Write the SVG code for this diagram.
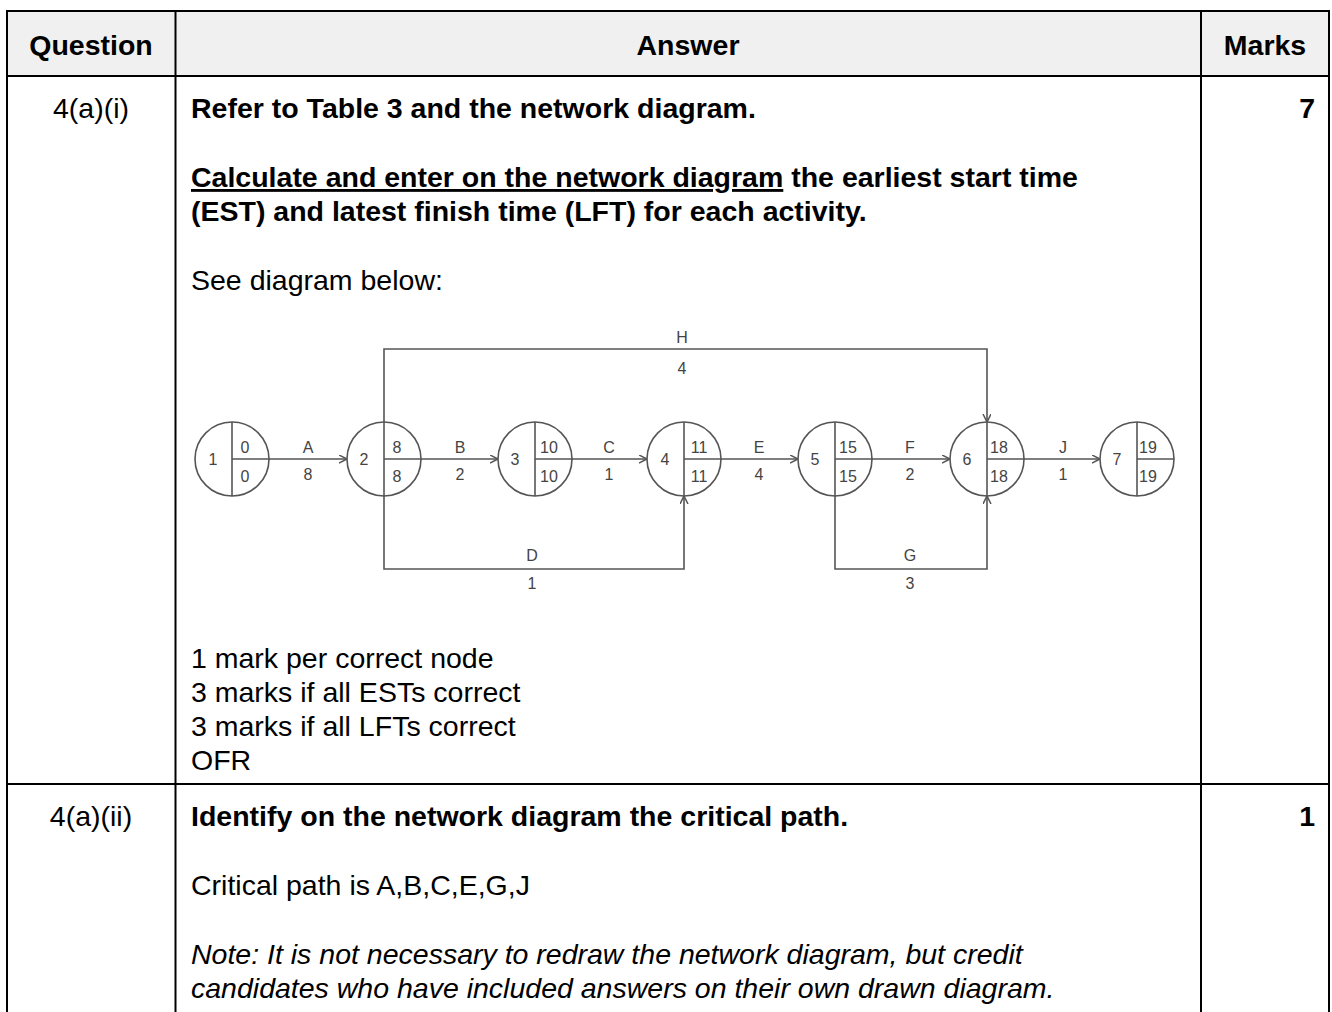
<svg xmlns="http://www.w3.org/2000/svg" width="1332" height="1012" viewBox="0 0 1332 1012">
<style>
text{font-family:"Liberation Sans",Arial,sans-serif;fill:#000}
.t{font-size:28.5px}
.b{font-weight:bold}
.i{font-style:italic}
.c{text-anchor:middle}
.e{text-anchor:end}
.grid{stroke:#000;stroke-width:2;fill:none}
.node circle{fill:#fff;stroke:#555;stroke-width:1.6}
.node line{stroke:#555;stroke-width:1.6}
.node text,.lbl{font-size:16px;fill:#444;text-anchor:middle}
.edge{stroke:#555;stroke-width:1.6;fill:none}
</style>
<defs>
<marker id="ah" markerWidth="10" markerHeight="10" refX="8" refY="4" orient="auto" markerUnits="userSpaceOnUse">
<path d="M0,0 L8,4 L0,8" fill="none" stroke="#555" stroke-width="1.5"/>
</marker>
</defs>
<rect x="8" y="12" width="1320" height="64" fill="#f0f0f0"/>
<g id="table" class="grid">
<line x1="6" y1="11" x2="1330" y2="11"/>
<line x1="6" y1="76" x2="1330" y2="76"/>
<line x1="6" y1="784" x2="1330" y2="784"/>
<line x1="7" y1="10" x2="7" y2="1012"/>
<line x1="175.5" y1="10" x2="175.5" y2="1012"/>
<line x1="1201" y1="10" x2="1201" y2="1012"/>
<line x1="1329" y1="10" x2="1329" y2="1012"/>
</g>
<g id="header">
<text class="t b c" x="91" y="55">Question</text>
<text class="t b c" x="688" y="55">Answer</text>
<text class="t b c" x="1265" y="55">Marks</text>
</g>
<g id="row1">
<text class="t c" x="91" y="118">4(a)(i)</text>
<text class="t b" x="191" y="118">Refer to Table 3 and the network diagram.</text>
<text class="t b e" x="1315" y="118">7</text>
<text class="t b" x="191" y="187"><tspan text-decoration="underline">Calculate and enter on the network diagram</tspan> the earliest start time</text>
<text class="t b" x="191" y="221">(EST) and latest finish time (LFT) for each activity.</text>
<text class="t" x="191" y="290">See diagram below:</text>
<text class="t" x="191" y="668">1 mark per correct node</text>
<text class="t" x="191" y="702">3 marks if all ESTs correct</text>
<text class="t" x="191" y="736">3 marks if all LFTs correct</text>
<text class="t" x="191" y="770">OFR</text>
</g>
<g id="row2">
<text class="t c" x="91" y="826">4(a)(ii)</text>
<text class="t b" x="191" y="826">Identify on the network diagram the critical path.</text>
<text class="t b e" x="1315" y="826">1</text>
<text class="t" x="191" y="895">Critical path is A,B,C,E,G,J</text>
<text class="t i" x="191" y="964">Note: It is not necessary to redraw the network diagram, but credit</text>
<text class="t i" x="191" y="998">candidates who have included answers on their own drawn diagram.</text>
</g>
<g id="connectors">
<line class="edge" x1="269" y1="459" x2="347" y2="459" marker-end="url(#ah)"/>
<line class="edge" x1="421" y1="459" x2="498" y2="459" marker-end="url(#ah)"/>
<line class="edge" x1="572" y1="459" x2="647" y2="459" marker-end="url(#ah)"/>
<line class="edge" x1="721" y1="459" x2="798" y2="459" marker-end="url(#ah)"/>
<line class="edge" x1="872" y1="459" x2="950" y2="459" marker-end="url(#ah)"/>
<line class="edge" x1="1024" y1="459" x2="1100" y2="459" marker-end="url(#ah)"/>
<path class="edge" d="M384,422 V349 H987 V422" marker-end="url(#ah)"/>
<path class="edge" d="M384,496 V569 H684 V496" marker-end="url(#ah)"/>
<path class="edge" d="M835,496 V569 H987 V496" marker-end="url(#ah)"/>
<text class="lbl" x="308" y="453">A</text><text class="lbl" x="308" y="480">8</text>
<text class="lbl" x="460" y="453">B</text><text class="lbl" x="460" y="480">2</text>
<text class="lbl" x="609" y="453">C</text><text class="lbl" x="609" y="480">1</text>
<text class="lbl" x="759" y="453">E</text><text class="lbl" x="759" y="480">4</text>
<text class="lbl" x="910" y="453">F</text><text class="lbl" x="910" y="480">2</text>
<text class="lbl" x="1063" y="453">J</text><text class="lbl" x="1063" y="480">1</text>
<text class="lbl" x="682" y="343">H</text><text class="lbl" x="682" y="374">4</text>
<text class="lbl" x="532" y="561">D</text><text class="lbl" x="532" y="589">1</text>
<text class="lbl" x="910" y="561">G</text><text class="lbl" x="910" y="589">3</text>
</g>
<g id="node1" class="node"><circle cx="232" cy="459" r="37"/><line x1="232" y1="422" x2="232" y2="496"/><line x1="232" y1="459" x2="269" y2="459"/><text x="213" y="465">1</text><text x="245" y="453">0</text><text x="245" y="482">0</text></g>
<g id="node2" class="node"><circle cx="384" cy="459" r="37"/><line x1="384" y1="422" x2="384" y2="496"/><line x1="384" y1="459" x2="421" y2="459"/><text x="364" y="465">2</text><text x="397" y="453">8</text><text x="397" y="482">8</text></g>
<g id="node3" class="node"><circle cx="535" cy="459" r="37"/><line x1="535" y1="422" x2="535" y2="496"/><line x1="535" y1="459" x2="572" y2="459"/><text x="515" y="465">3</text><text x="549" y="453">10</text><text x="549" y="482">10</text></g>
<g id="node4" class="node"><circle cx="684" cy="459" r="37"/><line x1="684" y1="422" x2="684" y2="496"/><line x1="684" y1="459" x2="721" y2="459"/><text x="665" y="465">4</text><text x="699" y="453">11</text><text x="699" y="482">11</text></g>
<g id="node5" class="node"><circle cx="835" cy="459" r="37"/><line x1="835" y1="422" x2="835" y2="496"/><line x1="835" y1="459" x2="872" y2="459"/><text x="815" y="465">5</text><text x="848" y="453">15</text><text x="848" y="482">15</text></g>
<g id="node6" class="node"><circle cx="987" cy="459" r="37"/><line x1="987" y1="422" x2="987" y2="496"/><line x1="987" y1="459" x2="1024" y2="459"/><text x="967" y="465">6</text><text x="999" y="453">18</text><text x="999" y="482">18</text></g>
<g id="node7" class="node"><circle cx="1137" cy="459" r="37"/><line x1="1137" y1="422" x2="1137" y2="496"/><line x1="1137" y1="459" x2="1174" y2="459"/><text x="1117" y="465">7</text><text x="1148" y="453">19</text><text x="1148" y="482">19</text></g>
</svg>
